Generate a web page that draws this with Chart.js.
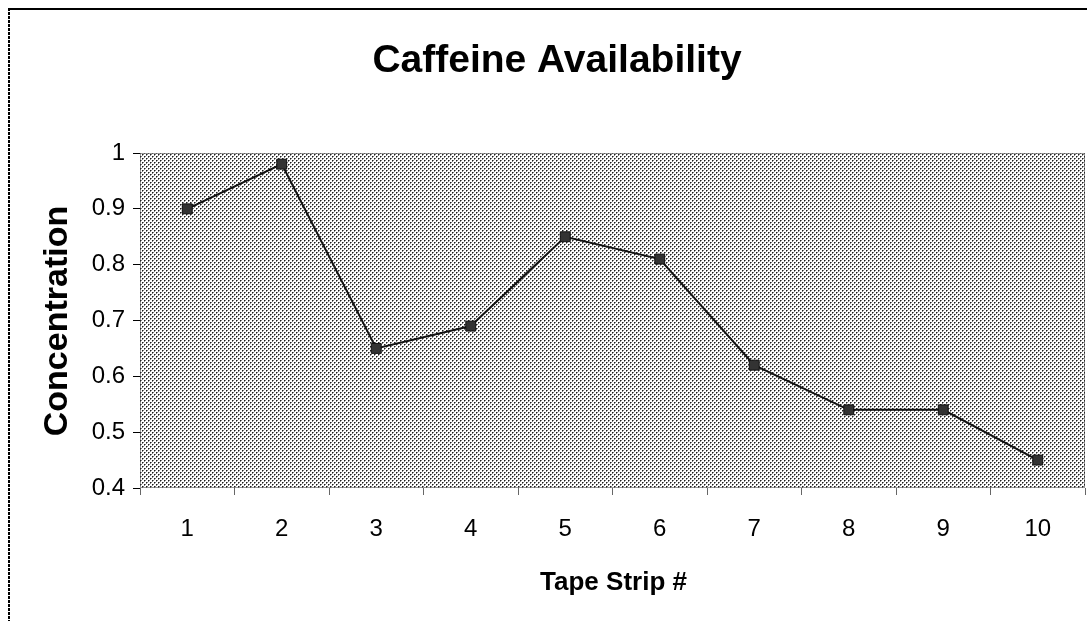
<!DOCTYPE html>
<html>
<head>
<meta charset="utf-8">
<script src="https://cdn.jsdelivr.net/npm/chart.js@4/dist/chart.umd.min.js"></script>
<style>
html,body{margin:0;padding:0;background:#fff;}
#wrap{width:1087px;height:621px;position:relative;}
</style>
</head>
<body>
<div id="wrap"><canvas id="c" width="1087" height="621"></canvas></div>
<script>
const chartTitle = "Caffeine Availability";
const xTitle = "Tape Strip #";
const yTitle = "Concentration";
const categories = ["1","2","3","4","5","6","7","8","9","10"];
const concentration = [0.90, 0.98, 0.65, 0.69, 0.85, 0.81, 0.62, 0.54, 0.54, 0.45];
const yMin = 0.4, yMax = 1.0, yStep = 0.1;

function makePattern(ctx){
  const p = document.createElement('canvas');
  p.width = 4; p.height = 4;
  const g = p.getContext('2d');
  g.fillStyle = '#ffffff'; g.fillRect(0,0,4,4);
  g.fillStyle = '#808080';
  [[1,0],[0,1],[3,2],[2,3]].forEach(([x,y])=>g.fillRect(x,y,1,1));
  g.fillStyle = '#1e1e1e';
  g.fillRect(0,0,1,1); g.fillRect(2,2,1,1);
  return ctx.createPattern(p,'repeat');
}

const FONT = '"Liberation Sans", Arial, sans-serif';

const decor = {
  id:'decor',
  beforeDraw(chart){
    const ctx = chart.ctx, a = chart.chartArea;
    ctx.save();
    ctx.strokeStyle = '#000';
    ctx.lineWidth = 2;
    ctx.beginPath(); ctx.moveTo(8,9); ctx.lineTo(1087,9); ctx.stroke();
    ctx.setLineDash([3,1]);
    ctx.beginPath(); ctx.moveTo(9,8); ctx.lineTo(9,621); ctx.stroke();
    ctx.setLineDash([]);
    ctx.fillStyle = makePattern(ctx);
    ctx.fillRect(a.left, a.top, a.right-a.left, a.bottom-a.top);
    ctx.strokeStyle = '#333';
    ctx.lineWidth = 1;
    ctx.setLineDash([1,1]);
    ctx.strokeRect(a.left+0.5, a.top+0.5, a.right-a.left-1, a.bottom-a.top-1);
    ctx.setLineDash([]);
    ctx.restore();
  },
  afterDraw(chart){
    const ctx = chart.ctx, a = chart.chartArea;
    ctx.save();
    ctx.fillStyle = '#000';
    ctx.textAlign = 'center';
    ctx.textBaseline = 'alphabetic';
    ctx.font = 'bold 39px ' + FONT;
    ctx.fillText(chartTitle, 557, 72);
    ctx.font = 'bold 26px ' + FONT;
    ctx.fillText(xTitle, (a.left+a.right)/2 + 1, 590);
    ctx.translate(67, 321);
    ctx.rotate(-Math.PI/2);
    ctx.font = 'bold 34px ' + FONT;
    ctx.fillText(yTitle, 0, 0);
    ctx.restore();
  }
};

new Chart(document.getElementById('c'), {
  type:'line',
  data:{
    labels: categories,
    datasets:[{
      data: concentration,
      borderColor:'#111',
      borderWidth:2,
      pointStyle:'rect',
      pointRadius:7,
      pointBackgroundColor:'#333',
      pointBorderColor:'#111',
      pointBorderWidth:1,
      tension:0,
      fill:false,
      clip:false
    }]
  },
  options:{
    responsive:false,
    animation:false,
    devicePixelRatio:1,
    layout:{autoPadding:false,padding:{top:153,left:0,right:2,bottom:0}},
    plugins:{legend:{display:false},title:{display:false},tooltip:{enabled:false}},
    scales:{
      x:{
        offset:true,
        grid:{display:true,offset:true,drawOnChartArea:false,drawTicks:true,tickLength:7,color:'#666'},
        border:{display:false},
        ticks:{color:'#000',padding:20,font:{family:FONT,size:24}},
        afterFit(s){ s.height = 133; s.paddingLeft = 0; s.paddingRight = 0; }
      },
      y:{
        min:yMin,max:yMax,
        grid:{display:true,drawOnChartArea:false,drawTicks:true,tickLength:7,color:'#000'},
        border:{display:false},
        ticks:{stepSize:yStep,color:'#000',padding:8,
          font:{family:FONT,size:24},
          callback:v=>String(Math.round(v*10)/10)},
        afterFit(s){ s.width = 140; s.paddingTop = 0; s.paddingBottom = 0; }
      }
    }
  },
  plugins:[decor]
});
</script>
</body>
</html>
